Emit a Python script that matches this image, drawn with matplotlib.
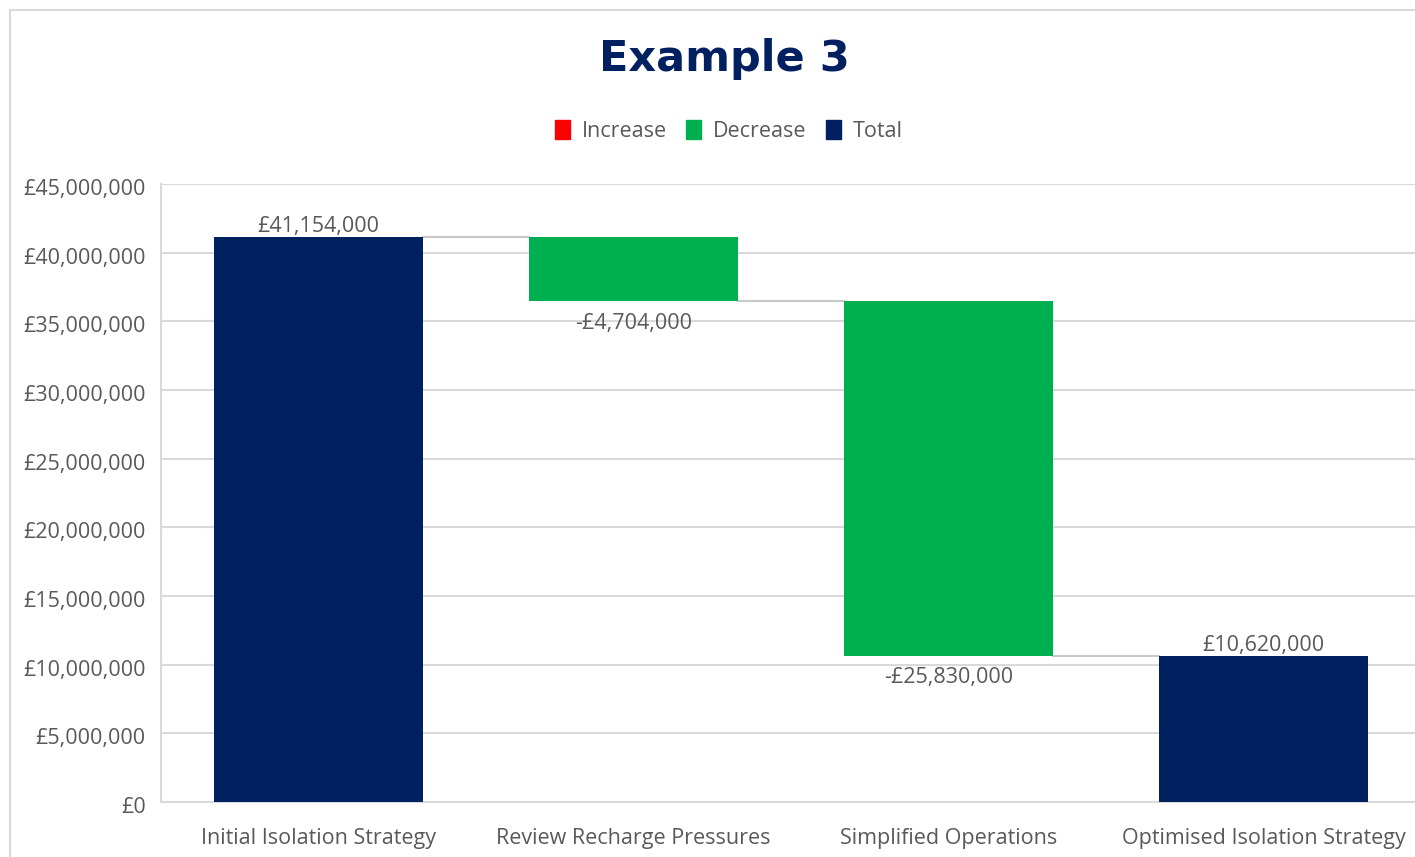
import matplotlib
matplotlib.use("Agg")
import matplotlib.pyplot as plt
import matplotlib.transforms as mtransforms
from matplotlib.patches import Patch, Rectangle
from matplotlib.ticker import FuncFormatter, MultipleLocator

categories = ["Initial Isolation Strategy", "Review Recharge Pressures",
              "Simplified Operations", "Optimised Isolation Strategy"]
amounts = [41154000, -4704000, -25830000, 10620000]
kinds = ["total", "delta", "delta", "total"]

NAVY = "#002060"
GREEN = "#00B050"
RED = "#FF0000"
TEXT = "#595959"
GRID = "#D9D9D9"
FS = 15.5

plt.rcParams["font.family"] = ["Open Sans", "DejaVu Sans"]

fig = plt.figure(figsize=(14.15, 8.57), dpi=100)
fig.patch.set_facecolor("white")

# outer chart frame
fig.add_artist(Rectangle((10 / 1415, -0.05), 1.2, 1 - 10 / 857 + 0.05,
                         transform=fig.transFigure, fill=False,
                         edgecolor="#D9D9D9", linewidth=1.5))

ax = fig.add_axes([161 / 1415, 1 - 802 / 857, 1260 / 1415, 618 / 857])
ax.set_xlim(-0.5, 3.5)
ax.set_ylim(0, 45000000)
ax.yaxis.set_major_locator(MultipleLocator(5000000))
ax.yaxis.set_major_formatter(FuncFormatter(lambda v, p: f"£{v:,.0f}"))
ax.grid(axis="y", color=GRID, linewidth=1.5)
ax.set_axisbelow(True)
for s in ["top", "right"]:
    ax.spines[s].set_visible(False)
ax.spines["left"].set_color(GRID)
ax.spines["bottom"].set_color(GRID)
ax.spines["left"].set_linewidth(1.5)
ax.spines["bottom"].set_linewidth(1.5)
ax.tick_params(axis="both", length=0, labelsize=FS, labelcolor=TEXT)
ax.tick_params(axis="y", pad=11)
ax.tick_params(axis="x", pad=19)
ax.set_xticks(range(len(categories)))
ax.set_xticklabels(categories)
shift = mtransforms.ScaledTranslation(0, -3 / 100, fig.dpi_scale_trans)
for t in ax.get_yticklabels():
    t.set_va("center_baseline")
    t.set_transform(t.get_transform() + shift)

width = 0.663
running = 0
levels = []
for i, (amt, kind) in enumerate(zip(amounts, kinds)):
    if kind == "total":
        running = amt
        ax.bar(i, amt, width, bottom=0, color=NAVY, zorder=3)
        ax.annotate(f"£{amt:,.0f}", (i, amt), xytext=(0, 0),
                    textcoords="offset points", ha="center", va="bottom",
                    fontsize=FS, color=TEXT, zorder=5)
    else:
        top = running
        running = running + amt
        color = GREEN if amt < 0 else RED
        ax.bar(i, top - running, width, bottom=running, color=color, zorder=3)
        sign = "-" if amt < 0 else ""
        ax.annotate(f"{sign}£{abs(amt):,.0f}", (i, running), xytext=(0, -8),
                    textcoords="offset points", ha="center", va="top",
                    fontsize=FS, color=TEXT, zorder=5)
    levels.append(running)

# connectors between consecutive bars
for i in range(len(amounts) - 1):
    ax.plot([i + width / 2, i + 1 - width / 2], [levels[i], levels[i]],
            color="#C8C8C8", linewidth=1.5, zorder=2)

fig.text(724 / 1415, 1 - 59 / 857, "Example 3", ha="center", va="center",
         fontsize=31, fontweight="bold", color=NAVY,
         family=["DejaVu Sans"])

handles = [Patch(color=RED, label="Increase"),
           Patch(color=GREEN, label="Decrease"),
           Patch(color=NAVY, label="Total")]
leg = fig.legend(handles=handles, loc="center", ncol=3, frameon=False,
                 bbox_to_anchor=(729 / 1415, 1 - 131 / 857),
                 fontsize=FS, handlelength=0.7, handleheight=0.95,
                 handletextpad=0.55, columnspacing=0.9)
for t in leg.get_texts():
    t.set_color(TEXT)

fig.savefig("out.png", dpi=100)
